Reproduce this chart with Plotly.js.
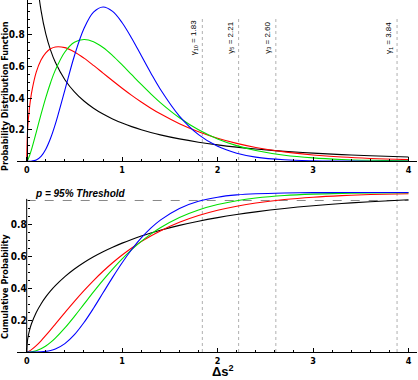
<!DOCTYPE html>
<html><head><meta charset="utf-8">
<script src="https://cdn.plot.ly/plotly-3.0.1.min.js"></script>
<style>html,body{margin:0;padding:0;background:#fff}#chart{width:418px;height:380px}</style>
</head><body><div id="chart"></div>
<script>
// x grid (Δs²)
const xs = [0, 0.01, 0.03, 0.05, 0.1, 0.15, 0.2, 0.25, 0.3, 0.4, 0.5, 0.6, 0.7, 0.8, 0.9, 1.0, 1.1, 1.2, 1.3, 1.4, 1.6, 1.8, 2.0, 2.2, 2.4, 2.7, 3.0, 3.3, 3.6, 4.0];

// probability distribution function values
const pdfBlack = [null, null, null, 1.740, 1.200, 0.9556, 0.8072, 0.7041, 0.6269, 0.5164, 0.4394, 0.3815, 0.3360, 0.2990, 0.2681, 0.2420, 0.2195, 0.1999, 0.1827, 0.1674, 0.1417, 0.1209, 0.1038, 0.0895, 0.0776, 0.0629, 0.0514, 0.0422, 0.0348, 0.0270];
const pdfRed   = [0, 0.2042, 0.3433, 0.4300, 0.5642, 0.6411, 0.6868, 0.7124, 0.7240, 0.7195, 0.6924, 0.6529, 0.6069, 0.5585, 0.5098, 0.4626, 0.4175, 0.3754, 0.3363, 0.3004, 0.2379, 0.1869, 0.1460, 0.1134, 0.0877, 0.0593, 0.0399, 0.0267, 0.0178, 0.0103];
const pdfGreen = [0, 0.0073, 0.0358, 0.0733, 0.1831, 0.2968, 0.4033, 0.4974, 0.5770, 0.6918, 0.7530, 0.7709, 0.7565, 0.7199, 0.6690, 0.6102, 0.5482, 0.4865, 0.4272, 0.3718, 0.2756, 0.1994, 0.1417, 0.0991, 0.0685, 0.0386, 0.0214, 0.0116, 0.0063, 0.0027];
const pdfBlue  = [0, 0, 0.0001, 0.0006, 0.0079, 0.0311, 0.0766, 0.1457, 0.2353, 0.4511, 0.6680, 0.8402, 0.9440, 0.9768, 0.9490, 0.8773, 0.7791, 0.6693, 0.5591, 0.4561, 0.2863, 0.1687, 0.0946, 0.0509, 0.0265, 0.0095, 0.0032, 0.0011, 0.0003, 0.0001];

// cumulative probability values
const cdfBlack = [0, 0.0797, 0.1375, 0.1769, 0.2482, 0.3015, 0.3453, 0.3829, 0.4161, 0.4729, 0.5205, 0.5614, 0.5972, 0.6289, 0.6572, 0.6827, 0.7057, 0.7267, 0.7458, 0.7633, 0.7941, 0.8203, 0.8427, 0.8620, 0.8787, 0.8997, 0.9167, 0.9307, 0.9422, 0.9545];
const cdfRed   = [0, 0.0014, 0.0070, 0.0148, 0.0400, 0.0703, 0.1036, 0.1386, 0.1746, 0.2470, 0.3177, 0.3850, 0.4481, 0.5064, 0.5598, 0.6083, 0.6524, 0.6919, 0.7275, 0.7593, 0.8129, 0.8553, 0.8884, 0.9142, 0.9342, 0.9560, 0.9707, 0.9805, 0.9871, 0.9926];
const cdfGreen = [0, 0.0000, 0.0004, 0.0015, 0.0079, 0.0199, 0.0374, 0.0600, 0.0869, 0.1509, 0.2235, 0.3000, 0.3766, 0.4506, 0.5201, 0.5841, 0.6420, 0.6938, 0.7394, 0.7794, 0.8438, 0.8909, 0.9248, 0.9486, 0.9652, 0.9809, 0.9896, 0.9944, 0.9971, 0.9987];
const cdfBlue  = [0, 0, 0, 0, 0.0002, 0.0011, 0.0037, 0.0091, 0.0186, 0.0527, 0.1088, 0.1847, 0.2746, 0.3712, 0.4679, 0.5595, 0.6425, 0.7149, 0.7763, 0.8270, 0.9004, 0.9450, 0.9707, 0.9849, 0.9924, 0.9974, 0.9991, 0.9997, 0.9999, 1.0000];

// thresholds
const gammaPositions = [1.84, 2.22, 2.61, 3.88];
const gammaLabels = ['γ<sub>10</sub> = 1.83', 'γ<sub>5</sub> = 2.21', 'γ<sub>3</sub> = 2.60', 'γ<sub>1</sub> = 3.84'];
const pThreshold = 0.95;
const pLabel = '<b><i>p = 95% Threshold</i></b>';

const xTicks = [0, 1, 2, 3, 4];
const xTickText = ['0', '1', '2', '3', '4'];
const yTicksTop = [0.2, 0.4, 0.6, 0.8, 1.0];
const yTickTextTop = ['0.2', '0.4', '0.6', '0.8', '1.0'];
const yTicksBottom = [0.2, 0.4, 0.6, 0.8];
const yTickTextBottom = ['0.2', '0.4', '0.6', '0.8'];
const yMinorBottom = [0.05, 0.1, 0.15, 0.25, 0.3, 0.35, 0.45, 0.5, 0.55, 0.65, 0.7, 0.75, 0.85, 0.9, 0.95];

const colors = ['#000000', '#ff0000', '#00e000', '#0000ff'];
const narrow = '"Liberation Sans Narrow", "Arial Narrow", "DejaVu Sans Condensed", Arial, sans-serif';
const sans = '"Liberation Sans", Arial, Helvetica, sans-serif';
const bold = arr => arr.map(t => '<b>' + t + '</b>');

const pdfs = [pdfBlack, pdfRed, pdfGreen, pdfBlue];
const cdfs = [cdfBlack, cdfRed, cdfGreen, cdfBlue];
const traces = [];
pdfs.forEach((ys, i) => traces.push({x: xs, y: ys, xaxis: 'x', yaxis: 'y', type: 'scatter', mode: 'lines',
  line: {color: colors[i], width: 1.1, shape: 'spline', smoothing: 1}, connectgaps: false, hoverinfo: 'skip', showlegend: false}));
cdfs.forEach((ys, i) => traces.push({x: xs, y: ys, xaxis: 'x2', yaxis: 'y2', type: 'scatter', mode: 'lines',
  line: {color: colors[i], width: 1.1, shape: 'spline', smoothing: 1}, hoverinfo: 'skip', showlegend: false, cliponaxis: false}));

const tickFont = {family: narrow, size: 10, color: '#000'};
const xTickFont = {family: narrow, size: 9, color: '#000'};
const xRange = [-0.1016, 4.0889];
function xAxis(anchor) {
  return {domain: [0, 1], anchor: anchor, range: xRange, showline: true, linecolor: '#000', linewidth: 1,
    ticks: 'inside', ticklen: 4, tickcolor: '#000', tickwidth: 1, tickmode: 'array', tickvals: xTicks, ticktext: bold(xTickText),
    tickfont: xTickFont, showgrid: false, zeroline: false,
    minor: {tickmode: 'linear', tick0: 0, dtick: 0.2, ticks: 'inside', ticklen: 2, tickcolor: '#000', showgrid: false}};
}
const yPos = 0.02425;

const shapes = [
  {type: 'line', xref: 'x2', yref: 'y2', x0: 0, x1: 0, y0: 0, y1: 0.96, line: {color: '#000', width: 1}},
  {type: 'line', xref: 'x2', yref: 'y2', x0: 0, x1: 4, y0: pThreshold, y1: pThreshold, line: {color: '#888', width: 1, dash: 'dash'}, layer: 'below'}
];
gammaPositions.forEach(g => shapes.push({type: 'line', xref: 'x', yref: 'paper', x0: g, x1: g, y0: 0, y1: 0.946,
  line: {color: '#b0b0b0', width: 1, dash: 'dot'}, layer: 'below'}));

const annotations = [];
gammaPositions.forEach((g, i) => annotations.push({xref: 'x', yref: 'paper', x: g, y: 0.892, text: gammaLabels[i],
  showarrow: false, textangle: -90, xanchor: 'right', yanchor: 'middle', xshift: -1,
  font: {family: sans, size: 8, color: '#000'}}));
annotations.push({xref: 'paper', yref: 'paper', x: -0.03, y: 0.7273, text: '<b>Probability Distribution Function</b>',
  showarrow: false, textangle: -90, xanchor: 'center', yanchor: 'middle', font: {family: narrow, size: 9, color: '#000'}});
annotations.push({xref: 'paper', yref: 'paper', x: -0.03, y: 0.1847, text: '<b>Cumulative Probability</b>',
  showarrow: false, textangle: -90, xanchor: 'center', yanchor: 'middle', font: {family: narrow, size: 9, color: '#000'}});
annotations.push({xref: 'paper', yref: 'paper', x: (80 - 17) / 400, y: (352 - 193.3) / 352, text: pLabel,
  showarrow: false, xanchor: 'center', yanchor: 'middle', font: {family: sans, size: 10, color: '#000'}});
annotations.push({xref: 'paper', yref: 'paper', x: (223 - 17) / 400, y: (352 - 380) / 352, text: '<b>Δs<sup>2</sup></b>',
  showarrow: false, xanchor: 'center', yanchor: 'bottom', borderpad: 0, font: {family: sans, size: 13, color: '#000'}});

const layout = {
  width: 418, height: 380, margin: {l: 17, r: 1, t: 0, b: 28, pad: 0},
  paper_bgcolor: '#fff', plot_bgcolor: '#fff', showlegend: false,
  xaxis: xAxis('y'), xaxis2: xAxis('y2'),
  yaxis: {domain: [0.5418, 1], range: [0, 1.021], anchor: 'free', position: yPos, side: 'left',
    showline: true, linecolor: '#000', linewidth: 1, ticks: 'inside', ticklen: 4, tickcolor: '#000',
    tickmode: 'array', tickvals: yTicksTop, ticktext: bold(yTickTextTop), tickfont: tickFont, showgrid: false, zeroline: false,
    minor: {tickmode: 'linear', tick0: 0, dtick: 0.05, ticks: 'inside', ticklen: 2, tickcolor: '#000', showgrid: false}},
  yaxis2: {domain: [0, 0.4602], range: [0, 1.0157], anchor: 'free', position: yPos, side: 'left',
    showline: false, ticks: 'inside', ticklen: 4, tickcolor: '#000',
    tickmode: 'array', tickvals: yTicksBottom, ticktext: bold(yTickTextBottom), tickfont: tickFont, showgrid: false, zeroline: false,
    minor: {tickmode: 'array', tickvals: yMinorBottom, ticks: 'inside', ticklen: 2, tickcolor: '#000', showgrid: false}},
  shapes: shapes, annotations: annotations
};

Plotly.newPlot('chart', traces, layout, {displayModeBar: false, staticPlot: true});
</script>
</body></html>
